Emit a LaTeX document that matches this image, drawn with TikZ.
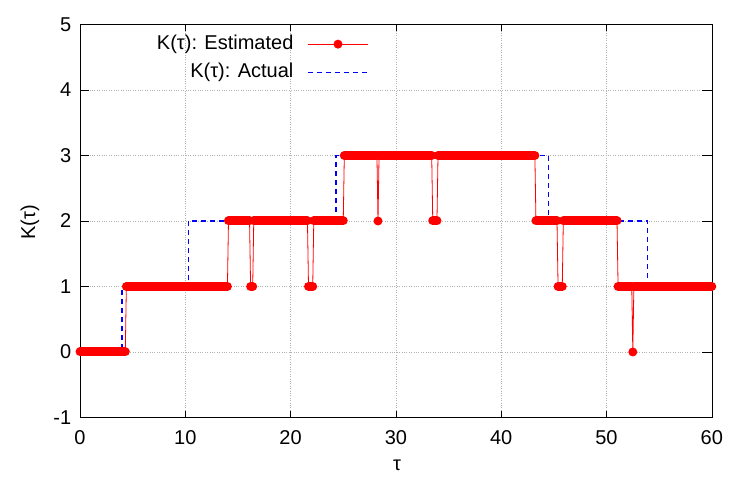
\documentclass[tikz,border=0pt]{standalone}
\usepackage{fontspec}
\setmainfont{Liberation Sans}
\begin{document}
\begin{tikzpicture}[x=10.53pt,y=65.5pt,
  est/.style={red,line width=0.8pt},
  run/.style={red,line width=9pt,line cap=round},
  act/.style={blue,line width=1.3pt,dash pattern=on 5pt off 4pt},
  lab/.style={font=\fontsize{20}{22}\selectfont}]
\useasboundingbox (-7.6,-2.092) rectangle (63.63,5.374);
\fill[white] (-7.6,-2.092) rectangle (63.63,5.374);
\foreach \x in {10,20,...,50} \draw[gray!60,dotted] (\x,-1) -- (\x,5);
\foreach \y in {0,...,4} \draw[gray!60,dotted] (0,\y) -- (60,\y);
\foreach \x in {0,10,...,60} {
  \draw (\x,-1) -- ++(0,0.1); \draw (\x,5) -- ++(0,-0.1);
  \node[lab] (xt\x) at (\x,-1.31) {\x};}
\foreach \y in {-1,...,5} {
  \draw (0,\y) -- ++(0.9,0); \draw (60,\y) -- ++(-0.9,0);
  \node[lab,anchor=east] (yt\y) at (-0.5,\y) {\y};}
\draw (0,-1) rectangle (60,5);
\node[lab,rotate=90] (yl) at (-4.75,1.98) {K(τ)};
\node[lab] (xl) at (30.1,-1.725) {τ};
% actual
\draw[act] (0,0) -- (4,0) -- (4,1) -- (10.3,1) -- (10.3,2) -- (24.3,2) -- (24.3,3) -- (44.5,3) -- (44.5,2) -- (53.9,2) -- (53.9,1) -- (60,1);
% estimated thin line
\draw[est] (0,0)--(4.3,0)--(4.4,1)--(14,1)--(14.1,2)--(16.1,2)--(16.2,1)--(16.4,1)--(16.5,2)--(21.6,2)--(21.7,1)--(22.1,1)--(22.2,2)--(25,2)--(25.1,3)--(28.2,3)--(28.3,2)--(28.4,3)--(33.4,3)--(33.5,2)--(33.9,2)--(34,3)--(43.2,3)--(43.3,2)--(45.3,2)--(45.4,1)--(45.8,1)--(45.9,2)--(51,2)--(51.1,1)--(52.4,1)--(52.5,0)--(52.6,1)--(60,1);
\foreach \a/\b/\l in {0/4.3/0,4.4/14/1,14.1/16.1/2,16.2/16.4/1,16.5/21.6/2,21.7/22.1/1,22.2/25/2,25.1/28.2/3,28.4/33.4/3,33.5/33.9/2,34/43.2/3,43.3/45.3/2,45.4/45.8/1,45.9/51/2,51.1/52.4/1,52.6/60/1}
  \draw[run] (\a,\l) -- (\b,\l);
\fill[red] (28.3,2) circle (4.5pt);
\fill[red] (52.5,0) circle (4.5pt);
% legend
\node[lab,anchor=east] (l1) at (20.6,4.70) {K(τ): Estimated};
\node[lab,anchor=east] (l2) at (20.6,4.27) {K(τ): Actual};
\coordinate (e1) at (21.65,4.70); \coordinate (e2) at (27.35,4.70);
\draw[est] (e1) -- (e2);
\fill[red] (24.5,4.70) circle (4.5pt);
\coordinate (a1) at (21.65,4.27); \coordinate (a2) at (27.35,4.27);
\draw[act] (a1) -- (a2);
\end{tikzpicture}
\end{document}
